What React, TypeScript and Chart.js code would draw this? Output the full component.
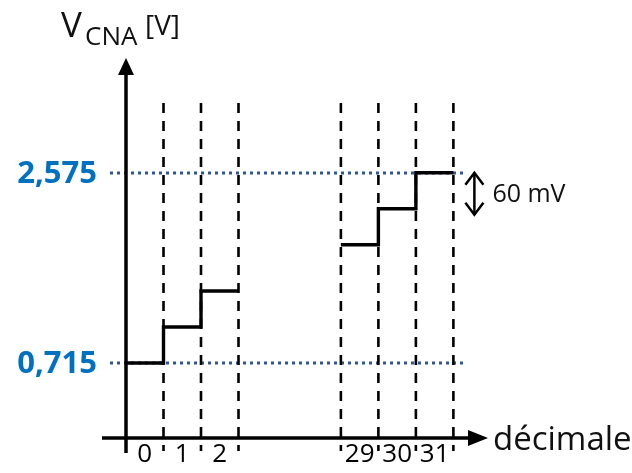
import React, { useEffect, useRef } from "react";
import { Chart, registerables } from "chart.js";

Chart.register(...registerables);

// ---- data ----
const codes = [0, 1, 2, 29, 30, 31];
const voltages = [0.715, 0.775, 0.835, 2.455, 2.515, 2.575];
const groups = [
  [0, 1, 2],
  [3, 4, 5],
];
const tickLabelsY = ["0,715", "2,575"];
const tickValuesY = [0.715, 2.575];
const xAxisTitle = "décimale";
const yAxisTitleMain = "V";
const yAxisTitleSub = "CNA";
const yAxisTitleUnit = "[V]";
const stepAnnotation = "60 mV";

// broken-axis mapping (layout constants)
const X_BREAK = 23.27; // codes >= 16 shifted left by this many columns
const Y_BREAK = 1.543; // volts >= 1.5 shifted down by this many volts
const colOf = (code: number) => (code >= 16 ? code - X_BREAK : code);
const yOf = (v: number) => (v >= 1.5 ? v - Y_BREAK : v);

const FONT = "'Open Sans', 'Liberation Sans', sans-serif";

const overlayPlugin = {
  id: "overlay",
  beforeDatasetsDraw(chart: any) {
    const { ctx, scales } = chart;
    const xs = scales.x;
    const ys = scales.y;
    ctx.save();
    // dotted horizontal reference lines
    ctx.strokeStyle = "#2F5597";
    ctx.lineWidth = 3;
    ctx.setLineDash([3, 4]);
    tickValuesY.forEach((v) => {
      const y = Math.round(ys.getPixelForValue(yOf(v)));
      ctx.beginPath();
      ctx.moveTo(xs.left - 16, y);
      ctx.lineTo(xs.getPixelForValue(colOf(32)) + 10, y);
      ctx.stroke();
    });
    // dashed vertical lines at column edges
    ctx.strokeStyle = "#000";
    ctx.lineWidth = 2.6;
    ctx.setLineDash([10, 8]);
    const edges: number[] = [];
    groups.forEach((g) => {
      g.forEach((i, k) => {
        if (k === 0 && codes[i] !== 0) edges.push(colOf(codes[i]));
        edges.push(colOf(codes[i]) + 1);
      });
    });
    edges.forEach((c) => {
      const x = xs.getPixelForValue(c);
      ctx.beginPath();
      ctx.moveTo(x, 103);
      ctx.lineTo(x, ys.bottom + 13);
      ctx.stroke();
    });
    ctx.restore();
  },
  afterDraw(chart: any) {
    const { ctx, scales } = chart;
    const xs = scales.x;
    const ys = scales.y;
    ctx.save();
    ctx.setLineDash([]);
    ctx.strokeStyle = "#000";
    ctx.fillStyle = "#000";
    ctx.lineWidth = 3.5;
    const x0 = xs.getPixelForValue(0);
    const yb = ys.bottom;
    // y axis
    ctx.beginPath();
    ctx.moveTo(x0, yb + 15);
    ctx.lineTo(x0, ys.top + 14);
    ctx.stroke();
    ctx.beginPath();
    ctx.moveTo(x0, ys.top);
    ctx.lineTo(x0 - 8, ys.top + 17);
    ctx.lineTo(x0 + 8, ys.top + 17);
    ctx.closePath();
    ctx.fill();
    // x axis
    ctx.beginPath();
    ctx.moveTo(x0 - 24, yb);
    ctx.lineTo(xs.right - 14, yb);
    ctx.stroke();
    ctx.beginPath();
    ctx.moveTo(xs.right, yb);
    ctx.lineTo(xs.right - 20, yb - 8);
    ctx.lineTo(xs.right - 20, yb + 8);
    ctx.closePath();
    ctx.fill();

    // x tick labels
    ctx.font = `26px ${FONT}`;
    ctx.textAlign = "center";
    ctx.textBaseline = "alphabetic";
    ctx.fillStyle = "#000";
    codes.forEach((c) => {
      const x = xs.getPixelForValue(colOf(c) + 0.5);
      ctx.fillText(String(c), x, yb + 24);
    });

    // y tick labels
    ctx.font = `bold 31px ${FONT}`;
    ctx.fillStyle = "#0070C0";
    ctx.textAlign = "right";
    ctx.textBaseline = "middle";
    tickValuesY.forEach((v, i) => {
      const y = ys.getPixelForValue(yOf(v));
      ctx.fillText(tickLabelsY[i], x0 - 29, y + 1);
    });

    // axis titles
    ctx.fillStyle = "#111";
    ctx.textAlign = "left";
    ctx.textBaseline = "alphabetic";
    ctx.font = `33px ${FONT}`;
    ctx.fillText(xAxisTitle, xs.right + 5, yb + 12);

    ctx.font = `35px ${FONT}`;
    ctx.fillText(yAxisTitleMain, 61, 37);
    ctx.font = `26px ${FONT}`;
    ctx.fillText(yAxisTitleSub, 85, 45);
    ctx.font = `28px ${FONT}`;
    ctx.fillText(yAxisTitleUnit, 145, 35);

    // 60 mV annotation
    const yTop = ys.getPixelForValue(yOf(voltages[5]));
    const yLow = ys.getPixelForValue(yOf(voltages[4])) + 6;
    const ax = xs.getPixelForValue(colOf(32)) + 21;
    ctx.strokeStyle = "#000";
    ctx.lineWidth = 2.5;
    ctx.lineJoin = "miter";
    ctx.beginPath();
    ctx.moveTo(ax, yTop);
    ctx.lineTo(ax, yLow);
    ctx.stroke();
    ctx.beginPath();
    ctx.moveTo(ax - 9, yTop + 12);
    ctx.lineTo(ax, yTop);
    ctx.lineTo(ax + 9, yTop + 12);
    ctx.stroke();
    ctx.beginPath();
    ctx.moveTo(ax - 9, yLow - 12);
    ctx.lineTo(ax, yLow);
    ctx.lineTo(ax + 9, yLow - 12);
    ctx.stroke();
    ctx.fillStyle = "#111";
    ctx.font = `25px ${FONT}`;
    ctx.textBaseline = "middle";
    ctx.fillText(stepAnnotation, ax + 18, (yTop + yLow) / 2 + 1);
    ctx.restore();
  },
};

export default function App() {
  const ref = useRef<HTMLCanvasElement | null>(null);
  useEffect(() => {
    if (!ref.current) return;
    const datasets = groups.map((g) => {
      const pts: { x: number; y: number }[] = [];
      g.forEach((i) => {
        const c = colOf(codes[i]);
        const y = yOf(voltages[i]);
        pts.push({ x: c, y });
        pts.push({ x: c + 1, y });
      });
      return {
        data: pts,
        borderColor: "#000",
        borderWidth: 3.4,
        pointRadius: 0,
        fill: false,
        tension: 0,
        clip: false as any,
        borderJoinStyle: "miter" as const,
      };
    });
    const chart = new Chart(ref.current, {
      type: "line",
      data: { datasets },
      options: {
        responsive: false,
        maintainAspectRatio: false,
        animation: false,
        layout: { padding: { left: 126, right: 144, top: 58, bottom: 35 } },
        plugins: { legend: { display: false }, tooltip: { enabled: false } },
        scales: {
          x: { type: "linear", display: false, min: 0, max: 9.653 },
          y: { type: "linear", display: false, min: 0.59, max: 1.2233 },
        },
      },
      plugins: [overlayPlugin],
    });
    return () => chart.destroy();
  }, []);
  return (
    <div style={{ position: "absolute", left: 0, top: 0, width: 632, height: 473, background: "#fff" }}>
      <canvas ref={ref} width={632} height={473} />
    </div>
  );
}
